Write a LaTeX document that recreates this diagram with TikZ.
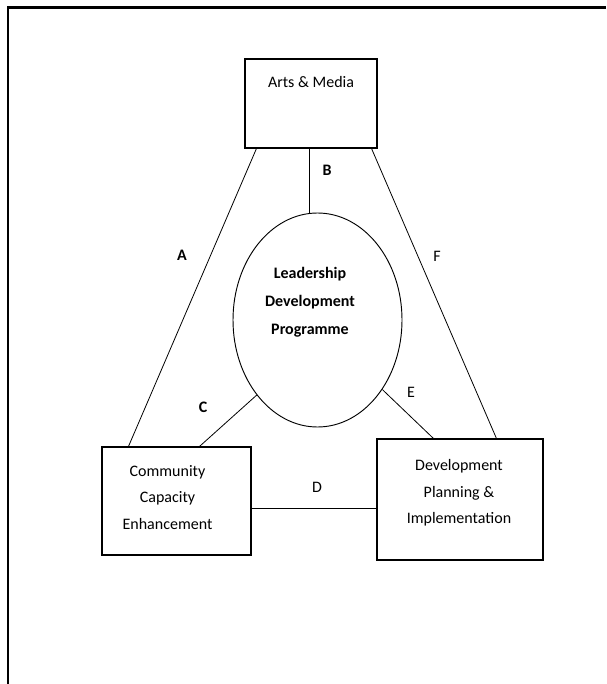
\documentclass[tikz,border=0pt]{standalone}
\usepackage{fontspec}
\setmainfont{Carlito}
\usetikzlibrary{shapes.geometric, positioning, calc}

\begin{document}
\begin{tikzpicture}[x=0.75pt, y=-0.75pt]

% Styles for the boxes, texts and link labels
\tikzset{
  areabox/.style={draw, line width=0.8pt, rectangle, inner sep=0pt},
  centrebox/.style={draw, line width=0.7pt, ellipse, inner sep=0pt},
  boxtext/.style={align=center, inner sep=0pt, font=\fontsize{12}{20}\selectfont},
  linklbl/.style={inner sep=0pt, font=\fontsize{12}{14}\selectfont},
  link/.style={line width=0.6pt}
}

% Page size and the frame
\useasboundingbox (0,0) rectangle (606,684);
\draw[line width=2.1pt] (8,684) -- (8,7.5) -- (606,7.5);

% Draw the boxes
\node[areabox, minimum width=99pt, minimum height=66.75pt] (arts) at (311,103.5) {};
\node[areabox, minimum width=111.75pt, minimum height=81pt] (comm) at (176.5,501) {};
\node[areabox, minimum width=124.5pt, minimum height=90.75pt] (dev) at (460,499.5) {};
\node[centrebox, minimum width=126.75pt, minimum height=160.5pt] (lead) at (317.5,320) {};

% Texts inside the boxes
\node[boxtext] (artstext) at ($(arts.north)+(0,24)$) {Arts \& Media};
\node[boxtext] (commtext) at ($(comm.north)+(-9,51)$) {Community\\Capacity\\Enhancement};
\node[boxtext] (devtext) at ($(dev.north)+(-1,54.5)$) {Development\\Planning \&\\Implementation};
\node[boxtext, font=\bfseries\fontsize{12}{21}\selectfont] (leadtext) at (310,302) {Leadership\\Development\\Programme};

% Draw the links
\draw[link] ($(arts.south west)+(12,0)$) -- ($(comm.north west)+(27,0)$);
\draw[link] ($(arts.south)+(-2,0)$) -- ($(arts.south)+(-2,65)$);
\draw[link] (lead.231) -- ($(comm.north west)+(98,0)$);
\draw[link] (comm.east |- 0,508) -- (dev.west |- 0,508);
\draw[link] (lead.313) -- ($(dev.north west)+(57,0)$);
\draw[link] ($(arts.south east)+(-6,0)$) -- ($(dev.north west)+(120,0)$);

% Add labels for each link
\node[linklbl, font=\bfseries\fontsize{12}{14}\selectfont] (labA) at (182,255) {A};
\node[linklbl, font=\bfseries\fontsize{12}{14}\selectfont] (labB) at (327,170) {B};
\node[linklbl, font=\bfseries\fontsize{12}{14}\selectfont] (labC) at (203,407) {C};
\node[linklbl] (labD) at (317,487) {D};
\node[linklbl] (labE) at (411,392) {E};
\node[linklbl] (labF) at (437,256) {F};

\end{tikzpicture}
\end{document}
